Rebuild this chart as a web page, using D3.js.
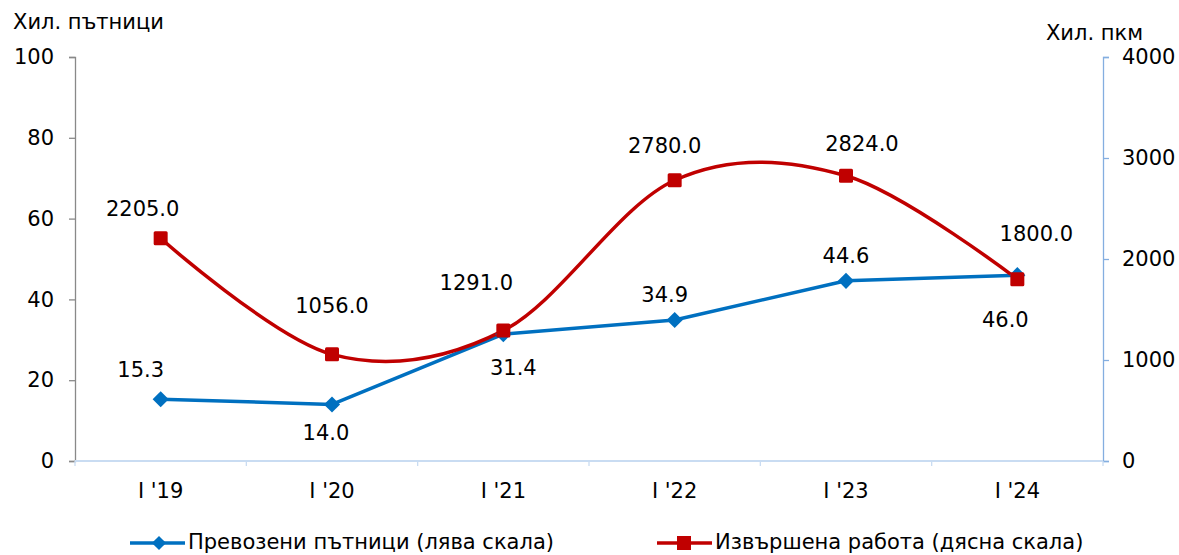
<!DOCTYPE html>
<html>
<head>
<meta charset="utf-8">
<script src="https://cdn.jsdelivr.net/npm/d3@7"></script>
<style>
    html, body { margin: 0; padding: 0; background: #fff; }
    svg { display: block; font-family: "DejaVu Sans", Verdana, sans-serif; }
</style>
</head>
<body>
<div id="chart"></div>
<script>
const categories = ["I '19", "I '20", "I '21", "I '22", "I '23", "I '24"];
const passengers = [15.3, 14.0, 31.4, 34.9, 44.6, 46.0];   // left scale, thousand passengers
const work = [2205.0, 1056.0, 1291.0, 2780.0, 2824.0, 1800.0]; // right scale, thousand pkm
const leftTicks = [0, 20, 40, 60, 80, 100];
const rightTicks = [0, 1000, 2000, 3000, 4000];

// hand-placed data label offsets (dx, dy from marker), as in the original
const passLabelOff = [[-20, -28], [-6, 30], [10, 35], [-10, -24], [0, -24], [-12, 46]];
const workLabelOff = [[-18, -28], [0, -47], [-27, -47], [-10, -33], [16, -31], [19, -44]];

const W = 1179, H = 555;
const m = { left: 75, right: 76, top: 57, bottom: 94 };

const svg = d3.select("#chart").append("svg")
    .attr("width", W).attr("height", H);

const x = d3.scaleBand().domain(categories).range([m.left, W - m.right]);
const yL = d3.scaleLinear().domain([0, 100]).range([H - m.bottom, m.top]);
const yR = d3.scaleLinear().domain([0, 4000]).range([H - m.bottom, m.top]);
const cx = (i) => x(categories[i]) + x.bandwidth() / 2;

const fs = 21;

/* ---------- axes ---------- */
const gL = svg.append("g").attr("transform", `translate(${m.left},0)`)
    .call(d3.axisLeft(yL).tickValues(leftTicks).tickSize(6).tickPadding(15));
gL.select(".domain").attr("stroke", "#898989").attr("stroke-width", 1.3);
gL.selectAll(".tick line").attr("stroke", "#898989").attr("stroke-width", 1.3);
gL.selectAll(".tick text").attr("font-size", fs).attr("fill", "#000")
    .attr("font-family", "DejaVu Sans");

const gR = svg.append("g").attr("transform", `translate(${W - m.right},0)`)
    .call(d3.axisRight(yR).tickValues(rightTicks).tickFormat(d3.format("d"))
        .tickSize(6).tickPadding(13));
gR.select(".domain").attr("stroke", "#84aee0").attr("stroke-width", 1.3);
gR.selectAll(".tick line").attr("stroke", "#84aee0").attr("stroke-width", 1.3);
gR.selectAll(".tick text").attr("font-size", fs).attr("fill", "#000")
    .attr("font-family", "DejaVu Sans");

// x axis: light blue baseline with ticks between categories
const gX = svg.append("g").attr("transform", `translate(0,${H - m.bottom})`);
gX.append("line")
    .attr("x1", m.left).attr("x2", W - m.right)
    .attr("stroke", "#c9dcf2").attr("stroke-width", 2);
gX.selectAll("line.sep")
    .data(d3.range(categories.length + 1))
    .join("line")
    .attr("class", "sep")
    .attr("x1", (i) => m.left + i * x.bandwidth())
    .attr("x2", (i) => m.left + i * x.bandwidth())
    .attr("y1", 0).attr("y2", 5)
    .attr("stroke", "#c9dcf2").attr("stroke-width", 1.3);
gX.selectAll("text")
    .data(categories)
    .join("text")
    .attr("x", (d, i) => cx(i))
    .attr("y", 37)
    .attr("text-anchor", "middle")
    .attr("font-size", fs)
    .text((d) => d);

/* ---------- axis titles ---------- */
svg.append("text").attr("x", 13).attr("y", 29)
    .attr("font-size", fs).text("Хил. пътници");
svg.append("text").attr("x", 1143).attr("y", 40)
    .attr("text-anchor", "end").attr("font-size", fs).text("Хил. пкм");

/* ---------- series ---------- */
const blue = "#0070c0", red = "#c00000";

const passLine = d3.line()
    .x((d, i) => cx(i)).y((d) => yL(d));
const workLine = d3.line()
    .x((d, i) => cx(i)).y((d) => yR(d))
    .curve(d3.curveCatmullRom.alpha(0));

svg.append("path").datum(passengers)
    .attr("d", passLine)
    .attr("fill", "none").attr("stroke", blue).attr("stroke-width", 3.5)
    .attr("stroke-linejoin", "round");

svg.append("path").datum(work)
    .attr("d", workLine)
    .attr("fill", "none").attr("stroke", red).attr("stroke-width", 3.5);

const diamond = d3.symbol().type(d3.symbolSquare).size(130);

svg.selectAll("path.pm")
    .data(passengers)
    .join("path")
    .attr("class", "pm")
    .attr("d", diamond)
    .attr("transform", (d, i) => `translate(${cx(i)},${yL(d)}) rotate(45)`)
    .attr("fill", blue);

svg.selectAll("rect.wm")
    .data(work)
    .join("rect")
    .attr("class", "wm")
    .attr("x", (d, i) => cx(i) - 7)
    .attr("y", (d) => yR(d) - 7)
    .attr("width", 14).attr("height", 14)
    .attr("rx", 1.5)
    .attr("fill", red);

/* ---------- data labels ---------- */
svg.selectAll("text.pl")
    .data(passengers)
    .join("text")
    .attr("class", "pl")
    .attr("x", (d, i) => cx(i) + passLabelOff[i][0])
    .attr("y", (d, i) => yL(d) + passLabelOff[i][1])
    .attr("text-anchor", "middle")
    .attr("dominant-baseline", "middle")
    .attr("font-size", fs)
    .text((d) => d.toFixed(1));

svg.selectAll("text.wl")
    .data(work)
    .join("text")
    .attr("class", "wl")
    .attr("x", (d, i) => cx(i) + workLabelOff[i][0])
    .attr("y", (d, i) => yR(d) + workLabelOff[i][1])
    .attr("text-anchor", "middle")
    .attr("dominant-baseline", "middle")
    .attr("font-size", fs)
    .text((d) => d.toFixed(1));

/* ---------- legend ---------- */
const legend = [
    { label: "Превозени пътници (лява скала)", color: blue, shape: "diamond", x: 130 },
    { label: "Извършена работа (дясна скала)", color: red, shape: "square", x: 657 },
];
const ly = 543;
const lg = svg.append("g");
legend.forEach((d) => {
    lg.append("line")
        .attr("x1", d.x).attr("x2", d.x + 55)
        .attr("y1", ly).attr("y2", ly)
        .attr("stroke", d.color).attr("stroke-width", 3.5);
    if (d.shape === "diamond") {
        lg.append("path")
            .attr("d", d3.symbol().type(d3.symbolSquare).size(100))
            .attr("transform", `translate(${d.x + 29},${ly}) rotate(45)`)
            .attr("fill", d.color);
    } else {
        lg.append("rect")
            .attr("x", d.x + 27 - 7).attr("y", ly - 7)
            .attr("width", 14).attr("height", 14)
            .attr("fill", d.color);
    }
    lg.append("text")
        .attr("x", d.x + 58).attr("y", ly)
        .attr("dominant-baseline", "middle")
        .attr("font-size", fs)
        .text(d.label);
});
</script>
</body>
</html>
